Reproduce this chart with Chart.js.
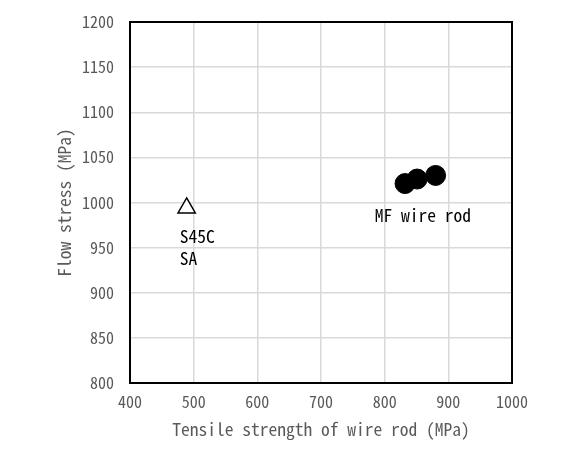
<!DOCTYPE html>
<html lang="en">
<head>
    <meta charset="UTF-8">
    <title>Flow stress vs tensile strength</title>
    <script src="https://cdn.jsdelivr.net/npm/chart.js"></script>
    <style>
        * {
            margin: 0;
            padding: 0;
            box-sizing: border-box;
        }
        body {
            background: #ffffff;
        }
        .chart-box {
            width: 581px;
            height: 450px;
        }
    </style>
</head>
<body>
    <div class="chart-box">
        <canvas id="flowChart"></canvas>
    </div>

    <script>
        // MF wire rod points (tensile strength, flow stress)
        const mfTensile = [832, 851, 880];
        const mfFlow = [1021, 1026, 1030];

        // S45C SA point
        const saTensile = [489];
        const saFlow = [994];

        // text notes placed at data coordinates
        const noteText = ["MF wire rod", "S45C", "SA"];
        const noteX = [860, 478, 478];
        const noteY = [986, 962, 938];
        const noteAlign = ["center", "left", "left"];

        const xTicks = [400, 500, 600, 700, 800, 900, 1000];
        const yTicks = [800, 850, 900, 950, 1000, 1050, 1100, 1150, 1200];

        const fontName = "'Noto Sans Mono CJK JP', 'DejaVu Sans Mono', monospace";

        const boxAndNotes = {
            id: "boxAndNotes",
            afterDatasetsDraw(chart) {
                const ctx = chart.ctx;
                const a = chart.chartArea;
                ctx.save();
                ctx.strokeStyle = "#000";
                ctx.lineWidth = 2;
                ctx.strokeRect(a.left, a.top, a.right - a.left, a.bottom - a.top);

                ctx.fillStyle = "#000";
                ctx.font = "17.5px " + fontName;
                ctx.textBaseline = "middle";
                for (let i = 0; i < noteText.length; i++) {
                    ctx.textAlign = noteAlign[i];
                    ctx.fillText(noteText[i],
                        chart.scales.x.getPixelForValue(noteX[i]),
                        chart.scales.y.getPixelForValue(noteY[i]));
                }
                ctx.restore();
            }
        };

        new Chart(document.getElementById("flowChart").getContext("2d"), {
            type: "scatter",
            data: {
                datasets: [{
                    label: "MF wire rod",
                    data: mfTensile.map((v, i) => ({ x: v, y: mfFlow[i] })),
                    pointStyle: "circle",
                    pointRadius: 10,
                    backgroundColor: "#000",
                    borderColor: "#000",
                    borderWidth: 1
                }, {
                    label: "S45C SA",
                    data: saTensile.map((v, i) => ({ x: v, y: saFlow[i] })),
                    pointStyle: "triangle",
                    pointRadius: 10,
                    backgroundColor: "#fff",
                    borderColor: "#000",
                    borderWidth: 1.5
                }]
            },
            options: {
                responsive: true,
                maintainAspectRatio: false,
                animation: false,
                layout: {
                    padding: { left: 54, right: 69, top: 22, bottom: 10 }
                },
                plugins: {
                    legend: { display: false },
                    tooltip: { enabled: false }
                },
                scales: {
                    x: {
                        type: "linear",
                        min: 400,
                        max: 1000,
                        afterBuildTicks: axis => { axis.ticks = xTicks.map(v => ({ value: v })); },
                        afterFit: axis => { axis.height = 57; },
                        grid: { color: "#d9d9d9", lineWidth: 1.5, drawTicks: false },
                        border: { display: false },
                        ticks: {
                            padding: 9,
                            color: "#595959",
                            font: { family: fontName, size: 16 },
                            callback: v => String(v)
                        },
                        title: {
                            display: true,
                            text: "Tensile strength of wire rod (MPa)",
                            color: "#595959",
                            font: { family: fontName, size: 17.5 },
                            padding: { top: 0, bottom: 0 }
                        }
                    },
                    y: {
                        type: "linear",
                        min: 800,
                        max: 1200,
                        afterBuildTicks: axis => { axis.ticks = yTicks.map(v => ({ value: v })); },
                        afterFit: axis => {
                            axis.width = 76;
                            axis.paddingTop = 0;
                            axis.paddingBottom = 0;
                        },
                        grid: { color: "#d9d9d9", lineWidth: 1.5, drawTicks: false },
                        border: { display: false },
                        ticks: {
                            padding: 16,
                            color: "#595959",
                            font: { family: fontName, size: 16 },
                            callback: v => String(v)
                        },
                        title: {
                            display: true,
                            text: "Flow stress (MPa)",
                            color: "#595959",
                            font: { family: fontName, size: 17.5 },
                            padding: { top: 0, bottom: 0 }
                        }
                    }
                }
            },
            plugins: [boxAndNotes]
        });
    </script>
</body>
</html>
